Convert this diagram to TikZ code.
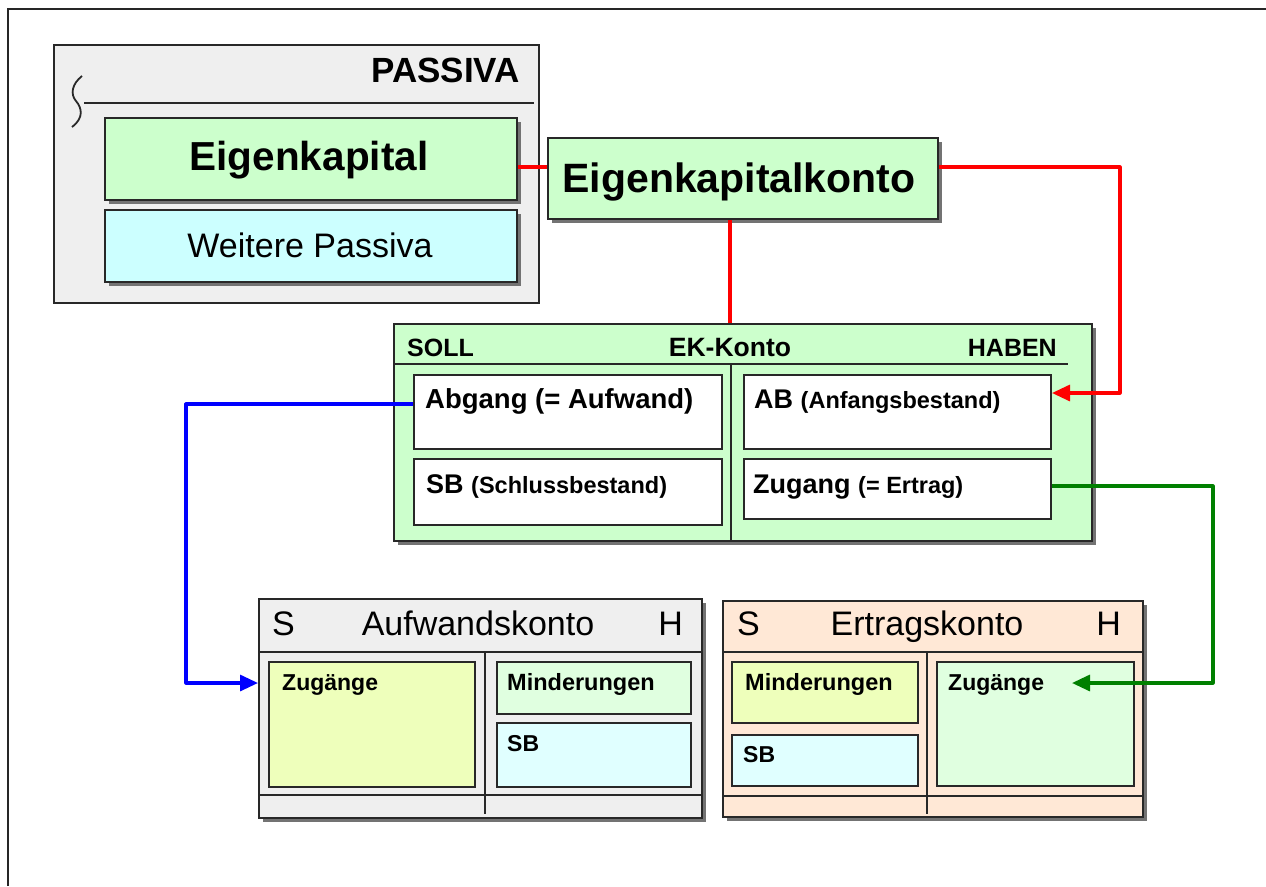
\documentclass[tikz,border=0pt]{standalone}
\usepackage{fontspec}
\setmainfont{Liberation Sans}
\usetikzlibrary{arrows.meta,shadows}
\definecolor{pgray}{HTML}{EFEFEF}
\definecolor{pgreen}{HTML}{CCFFCC}
\definecolor{pcyan}{HTML}{CCFFFF}
\definecolor{iyellow}{HTML}{EEFFBB}
\definecolor{igreen}{HTML}{E0FFE0}
\definecolor{icyan}{HTML}{E0FFFF}
\definecolor{ppeach}{HTML}{FFE8D6}
\definecolor{bord}{HTML}{282828}
\definecolor{lred}{HTML}{FF0000}
\definecolor{lblue}{HTML}{0000FF}
\definecolor{lgreen}{HTML}{008000}
\newcommand\fsz[1]{\fontsize{#1}{#1}\selectfont}
\begin{document}
\begin{tikzpicture}[x=1pt,y=-1pt,
  box/.style={draw=bord, line width=2pt, inner sep=0pt, anchor=north west},
  shbox/.style={box, general shadow={fill=black!55, shadow xshift=3.5pt, shadow yshift=-3.5pt}},
  inbox/.style={box, line width=2pt},
  lbl/.style={inner sep=0pt, anchor=base west},
  sep/.style={line width=2pt, bord},
  conn/.style={line width=3.2pt, line join=round},
  tip/.style={-{Triangle[length=18pt,width=16pt]}},
]
\useasboundingbox (0,0) rectangle (1266,886);
\fill[white] (0,0) rectangle (1266,886);
% outer frame
\draw[line width=2.4pt, black!85] (8,886) -- (8,9) -- (1266,9);

% PASSIVA
\node[box, fill=pgray, minimum width=485pt, minimum height=258pt] (passiva) at (53,44) {};
\node[lbl, anchor=base east, font=\fsz{35}\bfseries] (passivat) at (520,82) {PASSIVA};
\draw[line width=2.4pt, bord] (84,103) -- (534,103);
\draw[line width=1.8pt, bord] (82,76) .. controls (72,84) and (70,94) .. (76,101) .. controls (82,108) and (84,118) .. (72,127);

\node[shbox, fill=pgreen, minimum width=412pt, minimum height=82pt] (ek) at (104,117) {};
\node[lbl, anchor=base, font=\fsz{40.5}\bfseries] (ekt) at (309,170) {Eigenkapital};
\node[shbox, fill=pcyan, minimum width=412pt, minimum height=72pt] (wp) at (104,209) {};
\node[lbl, anchor=base, font=\fsz{34}] (wpt) at (310,257) {Weitere Passiva};

% Eigenkapitalkonto
\node[shbox, fill=pgreen, minimum width=390pt, minimum height=81pt] (ekk) at (547,137) {};
\node[lbl, anchor=base, font=\fsz{41}\bfseries] (ekkt) at (739,192) {Eigenkapitalkonto};

% EK-Konto
\node[shbox, fill=pgreen, minimum width=698pt, minimum height=217pt] (ekkonto) at (393,323) {};
\draw[sep] (393,364) -- (1068,364);
\draw[sep] (731,364) -- (731,540);
\node[lbl, font=\fsz{25}\bfseries] (soll) at (407,356) {SOLL};
\node[lbl, anchor=base, font=\fsz{26.5}\bfseries] (ekkontot) at (730,356) {EK-Konto};
\node[lbl, anchor=base east, font=\fsz{25}\bfseries] (haben) at (1057,356) {HABEN};

\node[inbox, fill=white, minimum width=308pt, minimum height=74pt] (abgang) at (413,374) {};
\node[inbox, fill=white, minimum width=308pt, minimum height=66pt] (sb) at (413,458) {};
\node[inbox, fill=white, minimum width=307pt, minimum height=74pt] (ab) at (743,374) {};
\node[inbox, fill=white, minimum width=307pt, minimum height=60pt] (zugang) at (743,458) {};
\node[lbl, font=\fsz{27.5}\bfseries] (abgangt) at (425,408) {Abgang (= Aufwand)};
\node[lbl, font=\fsz{27}\bfseries] (sbt) at (426,493) {SB {\fsz{23.5}(Schlussbestand)}};
\node[lbl, font=\fsz{27}\bfseries] (abt) at (754,408) {AB {\fsz{23.5}(Anfangsbestand)}};
\node[lbl, font=\fsz{27}\bfseries] (zugangt) at (753,493) {Zugang {\fsz{23.5}(= Ertrag)}};

% Aufwandskonto
\node[shbox, fill=pgray, line width=2.4pt, minimum width=443pt, minimum height=219pt] (aufw) at (258,598) {};
\draw[sep] (258,652) -- (701,652);
\draw[sep] (258,795) -- (701,795);
\draw[sep] (485,652) -- (485,814);
\node[lbl, font=\fsz{34}] (aufs) at (272,635) {S};
\node[lbl, anchor=base, font=\fsz{34}] (aufwt) at (478,635) {Aufwandskonto};
\node[lbl, anchor=base east, font=\fsz{34}] (aufh) at (683,635) {H};
\node[inbox, fill=iyellow, minimum width=206pt, minimum height=125pt] (zug1) at (268,661) {};
\node[inbox, fill=igreen, minimum width=194pt, minimum height=52pt] (min1) at (496,661) {};
\node[inbox, fill=icyan, minimum width=194pt, minimum height=64pt] (sb1) at (496,722) {};
\node[lbl, font=\fsz{23}\bfseries] (zug1t) at (282,690) {Zugänge};
\node[lbl, font=\fsz{23.5}\bfseries] (min1t) at (507,690) {Minderungen};
\node[lbl, font=\fsz{23}\bfseries] (sb1t) at (507,751) {SB};

% Ertragskonto
\node[shbox, fill=ppeach, line width=2.4pt, minimum width=420pt, minimum height=216pt] (ertr) at (722,600) {};
\draw[sep] (722,652) -- (1142,652);
\draw[sep] (722,796) -- (1142,796);
\draw[sep] (927,652) -- (927,814);
\node[lbl, font=\fsz{34}] (erts) at (737,635) {S};
\node[lbl, anchor=base, font=\fsz{34}] (ertrt) at (927,635) {Ertragskonto};
\node[lbl, anchor=base east, font=\fsz{34}] (erth) at (1121,635) {H};
\node[inbox, fill=iyellow, minimum width=186pt, minimum height=61pt] (min2) at (731,661) {};
\node[inbox, fill=icyan, minimum width=186pt, minimum height=51pt] (sb2) at (731,734) {};
\node[inbox, fill=igreen, minimum width=197pt, minimum height=124pt] (zug2) at (936,661) {};
\node[lbl, font=\fsz{23.5}\bfseries] (min2t) at (745,690) {Minderungen};
\node[lbl, font=\fsz{23}\bfseries] (sb2t) at (743,762) {SB};
\node[lbl, font=\fsz{23}\bfseries] (zug2t) at (948,690) {Zugänge};

% connectors
\coordinate (r1) at (0,167);
\coordinate (r2) at (1120,393);
\coordinate (r3) at (730,0);
\draw[conn, lred] (ek.east |- r1) -- (ekk.west |- r1);
\draw[conn, lred, tip] (ekk.east |- r1) -| (r2) -- (ab.east |- r2);
\draw[conn, lred] (ekk.south -| r3) -- (ekkonto.north -| r3);
\coordinate (b1) at (186,404);
\coordinate (b2) at (186,683);
\draw[conn, lblue, tip] (abgang.west |- b1) -- (b1) -- (b2) -- (aufw.west |- b2);
\coordinate (g1) at (1213,486);
\coordinate (g2) at (1072,683);
\draw[conn, lgreen, tip] (zugang.east |- g1) -- (g1) |- (g2);
\end{tikzpicture}
\end{document}
